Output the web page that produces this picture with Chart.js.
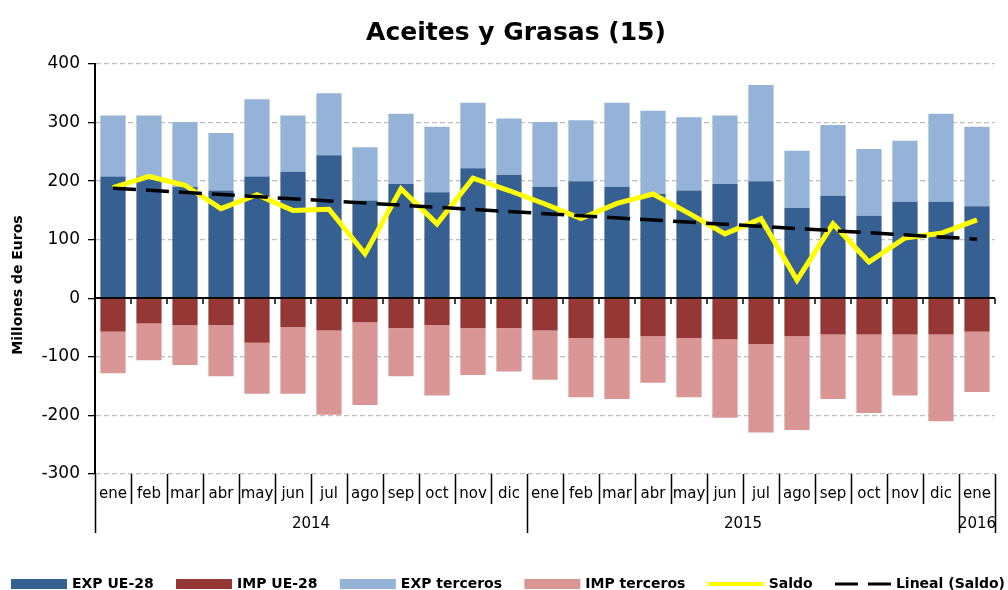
<!DOCTYPE html>
<html lang="es">
<head>
<meta charset="utf-8">
<title>Aceites y Grasas (15)</title>
<script src="https://cdn.jsdelivr.net/npm/chart.js"></script>
<style>
  html, body { margin: 0; padding: 0; background: #fff; }
  #wrap { width: 1008px; height: 590px; }
</style>
</head>
<body>
<div id="wrap"><canvas id="ctx" width="1008" height="590"></canvas></div>
<script>
"use strict";

// Millones de euros, ene 2014 - ene 2016
const meses = ["ene", "feb", "mar", "abr", "may", "jun", "jul", "ago", "sep", "oct", "nov", "dic",
  "ene", "feb", "mar", "abr", "may", "jun", "jul", "ago", "sep", "oct", "nov", "dic", "ene"];
const anios = ["2014", "2015", "2016"];
const mesesPorAnio = [12, 12, 1];

const expUE = [208, 208, 190, 184, 208, 216, 244, 167, 195, 181, 222, 211,
  190, 200, 190, 178, 184, 195, 200, 154, 175, 141, 165, 165, 157];
const impUE = [-57, -43, -46, -46, -76, -49, -55, -41, -51, -46, -51, -51,
  -55, -68, -68, -65, -68, -70, -78, -65, -62, -62, -62, -62, -57];
const expTerceros = [104, 104, 111, 98, 132, 96, 106, 91, 120, 112, 112, 96,
  111, 104, 144, 142, 125, 117, 164, 98, 121, 114, 104, 150, 136];
const impTerceros = [-71, -63, -68, -87, -87, -114, -144, -141, -82, -120, -80, -74,
  -84, -101, -104, -79, -101, -134, -151, -160, -110, -134, -104, -148, -103];
const saldo = [189, 208, 193, 153, 177, 150, 152, 76, 187, 127, 205, 184,
  161, 136, 162, 178, 145, 110, 136, 31, 127, 62, 103, 111, 134];
// tendencia lineal del saldo: primer y ultimo mes
const tendencia = [188, 101];

const yTicks = { min: -300, max: 400, step: 100 };

const FONT = "'DejaVu Sans', Verdana, sans-serif";
Chart.defaults.font.family = FONT;
Chart.defaults.color = "#000";

// la recta solo se define en los extremos; spanGaps la une
let lineal = meses.map((m, i) => {
  if (i === 0) return tendencia[0];
  if (i === meses.length - 1) return tendencia[1];
  return null;
});

function limite(x, k) {
  return x.left + k * (x.width / meses.length);
}

const extras = {
  id: "extras",
  afterDatasetDraw(chart, args) {
    // la linea de cero va encima de las barras
    if (args.index !== 0) return;
    const { ctx, chartArea, scales: { x, y } } = chart;
    const y0 = Math.round(y.getPixelForValue(0));
    ctx.save();
    ctx.strokeStyle = "#000";
    ctx.lineWidth = 2;
    ctx.beginPath();
    ctx.moveTo(chartArea.left, y0);
    ctx.lineTo(chartArea.right, y0);
    ctx.stroke();
    ctx.lineWidth = 1.5;
    ctx.beginPath();
    for (let k = 1; k <= meses.length; k++) {
      const xb = Math.round(limite(x, k));
      ctx.moveTo(xb, y0);
      ctx.lineTo(xb, y0 + 6);
    }
    ctx.stroke();
    ctx.restore();
  },
  afterDraw(chart) {
    const { ctx, chartArea, scales: { x } } = chart;
    const bottom = chartArea.bottom;
    ctx.save();

    // titulo
    ctx.fillStyle = "#000";
    ctx.textAlign = "center";
    ctx.textBaseline = "middle";
    ctx.font = "bold 25px " + FONT;
    ctx.fillText("Aceites y Grasas (15)", 516, 33);

    // titulo eje y
    ctx.save();
    ctx.translate(18, 285);
    ctx.rotate(-Math.PI / 2);
    ctx.font = "bold 14px " + FONT;
    ctx.fillText("Millones de Euros", 0, 0);
    ctx.restore();

    // separadores de meses y de años
    const cortes = [0];
    mesesPorAnio.forEach((n) => cortes.push(cortes[cortes.length - 1] + n));
    ctx.strokeStyle = "#000";
    ctx.lineWidth = 1.5;
    ctx.beginPath();
    for (let k = 0; k <= meses.length; k++) {
      const xb = Math.round(limite(x, k)) + 0.5;
      const largo = cortes.includes(k) ? 59 : 30;
      ctx.moveTo(xb, bottom);
      ctx.lineTo(xb, bottom + largo);
    }
    ctx.stroke();

    ctx.font = "15px " + FONT;
    anios.forEach((a, i) => {
      const xc = (limite(x, cortes[i]) + limite(x, cortes[i + 1])) / 2;
      ctx.fillText(a, xc, bottom + 50);
    });

    // leyenda
    const ds = chart.data.datasets;
    ctx.font = "bold 14px " + FONT;
    const caja = 56, sep = 5;
    const anchos = ds.map((d) => caja + sep + ctx.measureText(d.label).width);
    const total = anchos.reduce((s, w) => s + w, 0);
    const hueco = (1005 - 11 - total) / (ds.length - 1);
    let lx = 11;
    const ly = 584;
    ctx.textAlign = "left";
    ds.forEach((d, i) => {
      if (d.type === "line") {
        ctx.strokeStyle = d.borderColor;
        ctx.lineWidth = d.label === "Saldo" ? 4 : 3;
        ctx.setLineDash(d.borderDash || []);
        ctx.beginPath();
        ctx.moveTo(lx, ly);
        ctx.lineTo(lx + caja, ly);
        ctx.stroke();
        ctx.setLineDash([]);
      } else {
        ctx.fillStyle = d.backgroundColor;
        ctx.fillRect(lx, ly - 5, caja, 10);
      }
      ctx.fillStyle = "#000";
      ctx.fillText(d.label, lx + caja + sep, ly);
      lx += anchos[i] + hueco;
    });
    ctx.restore();
  }
};

const barra = { barPercentage: 0.7, categoryPercentage: 1, order: 2 };

new Chart(document.getElementById("ctx").getContext("2d"), {
  type: "bar",
  data: {
    labels: meses,
    datasets: [
      { label: "EXP UE-28", data: expUE, backgroundColor: "#376092", ...barra },
      { label: "IMP UE-28", data: impUE, backgroundColor: "#953735", ...barra },
      { label: "EXP terceros", data: expTerceros, backgroundColor: "#95B3D7", ...barra },
      { label: "IMP terceros", data: impTerceros, backgroundColor: "#D99694", ...barra },
      {
        type: "line", label: "Saldo", data: saldo, stack: "saldo", order: 1,
        borderColor: "#FFFF00", backgroundColor: "#FFFF00", borderWidth: 5,
        pointRadius: 0, tension: 0, borderJoinStyle: "miter"
      },
      {
        type: "line", label: "Lineal (Saldo)", data: lineal, stack: "lineal", order: 0,
        borderColor: "#000", borderWidth: 3.5, borderDash: [23, 10],
        pointRadius: 0, spanGaps: true
      }
    ]
  },
  options: {
    responsive: false,
    animation: false,
    layout: { padding: { top: 64, right: 13, left: 0, bottom: 0 } },
    plugins: {
      legend: { display: false },
      title: { display: false },
      tooltip: { enabled: false }
    },
    scales: {
      x: {
        stacked: true,
        grid: { drawOnChartArea: false, drawTicks: false },
        border: { display: false },
        ticks: { font: { size: 15 }, padding: 11, maxRotation: 0, autoSkip: false },
        afterFit(scale) { scale.height = 116; }
      },
      y: {
        stacked: true,
        min: yTicks.min,
        max: yTicks.max,
        ticks: { stepSize: yTicks.step, font: { size: 17 }, padding: 8 },
        grid: {
          color: (c) => (c.tick && c.tick.value === 0 ? "rgba(0,0,0,0)" : "#bfbfbf"),
          lineWidth: 1.3,
          tickColor: "#000",
          tickLength: 7
        },
        border: { color: "#000", width: 2, dash: [5, 3] },
        afterFit(scale) { scale.width = 95; }
      }
    }
  },
  plugins: [extras]
});
</script>
</body>
</html>
